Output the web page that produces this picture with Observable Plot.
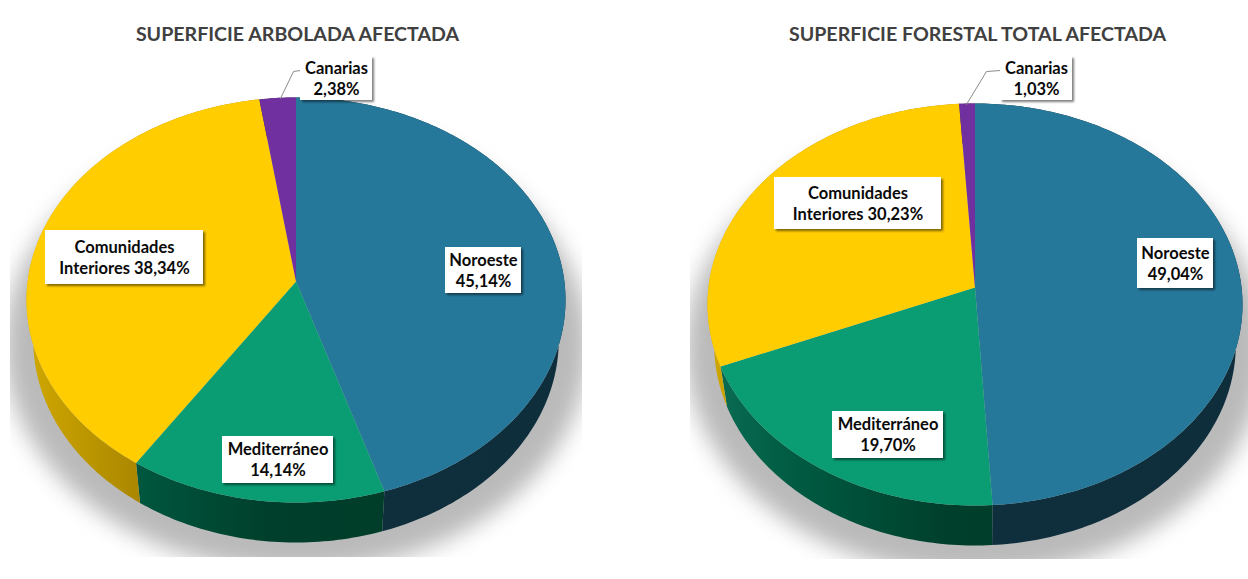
<!DOCTYPE html>
<html>
<head>
<meta charset="utf-8">
<script src="https://cdn.jsdelivr.net/npm/d3@7"></script>
<script src="https://cdn.jsdelivr.net/npm/@observablehq/plot@0.6"></script>
<style>
  html, body { margin: 0; padding: 0; background: #fff; }
  #chart { display: flex; width: 1248px; height: 579px; overflow: hidden; }
  #chart svg { display: block; flex: none; background: #fff; }
</style>
</head>
<body>
<div id="chart"></div>
<script>
// ---- Data ----
const regions = ["Noroeste", "Mediterráneo", "Comunidades Interiores", "Canarias"];
const labelHeads = ["Noroeste\n", "Mediterráneo\n", "Comunidades\nInteriores ", "Canarias\n"];
const arboladaValues = [45.14, 14.14, 38.34, 2.38];
const forestalValues = [49.04, 19.70, 30.23, 1.03];
const titles = ["SUPERFICIE ARBOLADA AFECTADA", "SUPERFICIE FORESTAL TOTAL AFECTADA"];

// ---- Styles ----
const faceColors = ["#26789a", "#0a9c73", "#ffcd00", "#7030a0"];
// Wall gradients run across the whole width of each pie.
const wallStops = [
  [["#10303f", 0], ["#0f2e3c", 1]],
  [["#0a6e55", 0], ["#005a41", 0.17], ["#003f2b", 0.45], ["#003c29", 1]],
  [["#d0a800", 0], ["#a88500", 0.22], ["#a88500", 1]],
  [["#3c1a58", 0], ["#3c1a58", 1]]
];

// ---- Layout of the two panels (page coordinates) ----
const panels = [
  {
    key: "a", values: arboladaValues, title: titles[0], titleX: 297,
    cx: 295.5, apexY: 281, top: 97, bottom: 502, rx: 269.5, depth: 40, wallInset: 0.975,
    frame: {x0: 10, x1: 582, bottom: 557}, marginLeft: 10, marginRight: 42,
    shadow: {cx: 296, cy: 345, rx: 292, ry: 226},
    boxes: [[445, 521, 247, 293], [222, 333, 436, 483], [45, 203, 230, 284], [300, 372, 56, 100]],
    leader: [[280, 98], [293, 71], [300, 70]]
  },
  {
    key: "b", values: forestalValues, title: titles[1], titleX: 977,
    cx: 974.5, apexY: 287, top: 103, bottom: 505, rx: 267.5, depth: 40, wallInset: 0.975,
    frame: {x0: 690, x1: 1248, bottom: 559}, marginLeft: 66, marginRight: 0,
    shadow: {cx: 975, cy: 349, rx: 290, ry: 226},
    boxes: [[1137, 1213, 238, 288], [832, 943, 411, 458], [774, 941, 177, 229], [1000, 1072, 56, 100]],
    leader: [[966, 104], [986, 71], [1000, 70]]
  }
];

const fmt = v => v.toFixed(2).replace(".", ",") + "%";
const font = "Lato, Carlito, 'Open Sans', sans-serif";

// A pie seen in perspective: maps a share of the circle (0..100) to the rim.
function projector(p) {
  const up = p.apexY - p.top, down = p.bottom - p.apexY;
  const k = -(down - up) / (down + up);
  const B = down * (1 + k);
  const A = p.rx * Math.sqrt(1 - k * k);
  return (share, scaleX = 1, dy = 0) => {
    const t = share / 100 * 2 * Math.PI;
    const u = Math.sin(t), v = -Math.cos(t), w = 1 + k * v;
    return {x: p.cx + scaleX * A * u / w, y: p.apexY + B * v / w + dy};
  };
}

function shares(values) {
  const total = d3.sum(values);
  let c = 0;
  return values.map(v => {
    const s0 = c / total * 100;
    c += v;
    return [s0, c / total * 100];
  });
}

function rim(rimAt, s0, s1, ...args) {
  const n = Math.max(2, Math.ceil((s1 - s0) * 3.6));
  return d3.range(n + 1).map(i => rimAt(s0 + (s1 - s0) * i / n, ...args));
}

function drawPanel(p) {
  const rimAt = projector(p);
  const spans = shares(p.values);

  const faces = spans.flatMap(([s0, s1], i) =>
    [{x: p.cx, y: p.apexY}, ...rim(rimAt, s0, s1)].map(d => ({...d, region: regions[i]})));

  const walls = spans.map(([s0, s1], i) => ({
    i,
    pts: [...rim(rimAt, s0, s1), ...rim(rimAt, s0, s1, p.wallInset, p.depth).reverse()]
  }));

  const shadowPts = d3.range(0, 361, 2).map(a => ({
    x: p.shadow.cx + p.shadow.rx * Math.sin(a * Math.PI / 180),
    y: p.shadow.cy + p.shadow.ry * Math.cos(a * Math.PI / 180)
  }));

  const defs = (index, scales) => {
    const d = d3.create("svg:defs");
    wallStops.forEach((stops, i) => {
      const g = d.append("linearGradient").attr("id", `wall-${p.key}-${i}`)
        .attr("gradientUnits", "userSpaceOnUse")
        .attr("x1", scales.x(p.cx - p.rx)).attr("x2", scales.x(p.cx + p.rx))
        .attr("y1", 0).attr("y2", 0);
      stops.forEach(([c, o]) => g.append("stop").attr("offset", o).attr("stop-color", c));
    });
    return d.node();
  };

  const labels = regions.map((r, i) => {
    const [x1, x2, y1, y2] = p.boxes[i];
    return {x1, x2, y1, y2, x: (x1 + x2) / 2, y: (y1 + y2) / 2 - 1,
            text: labelHeads[i] + fmt(p.values[i])};
  });

  return Plot.plot({
    width: 624,
    height: 579,
    marginLeft: p.marginLeft,
    marginRight: p.marginRight,
    marginTop: 0,
    marginBottom: 579 - p.frame.bottom,
    x: {domain: [p.frame.x0, p.frame.x1], axis: null},
    y: {domain: [p.frame.bottom, 0], axis: null},
    color: {domain: regions, range: faceColors},
    style: {background: "#fff", overflow: "hidden"},
    marks: [
      defs,
      Plot.line(shadowPts, {x: "x", y: "y", fill: "#bababa", stroke: "none",
        curve: "linear-closed", imageFilter: "blur(11px)", clip: "frame"}),
      ...walls.map(w => Plot.line(w.pts, {x: "x", y: "y", fill: `url(#wall-${p.key}-${w.i})`,
        stroke: "none", curve: "linear-closed"})),
      Plot.line(faces, {x: "x", y: "y", z: "region", fill: "region", stroke: "none",
        curve: "linear-closed"}),
      Plot.line(p.leader, {x: d => d[0], y: d => d[1], stroke: "#8a8a8a", strokeWidth: 1}),
      Plot.rect(labels, {x1: d => d.x1 + 2, x2: d => d.x2 + 2, y1: d => d.y1 + 2, y2: d => d.y2 + 2,
        fill: "#000", fillOpacity: 0.5, imageFilter: "blur(1px)"}),
      Plot.rect(labels, {x1: "x1", x2: "x2", y1: "y1", y2: "y2", fill: "#fff"}),
      Plot.text(labels, {x: "x", y: "y", text: "text", fontFamily: font, fontWeight: 700,
        fontSize: 16.5, lineHeight: 1.27, fill: "#0a0a0a"}),
      Plot.text([p.title], {x: () => p.titleX, y: () => 34, text: d => d, fontFamily: font,
        fontWeight: 700, fontSize: 19.6, fill: "#404040"})
    ]
  });
}

const host = document.getElementById("chart");
panels.forEach(p => host.appendChild(drawPanel(p)));
</script>
</body>
</html>
